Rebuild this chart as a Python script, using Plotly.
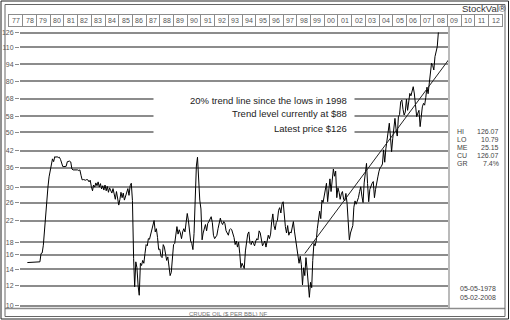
import pandas as pd
import plotly.graph_objects as go

# ---------------- data ----------------
start_month = "1978-05-01"
p1978 = [14.9, 14.9, 14.9, 14.9, 14.9, 14.9, 14.9, 14.9]
p1979 = [14.9, 14.9, 14.9, 15.0, 16.2, 16.3, 17.5, 20.5, 23.5, 27.0, 30.0, 33.0]
p1980 = [35.5, 37.4, 39.0, 38.0, 39.8, 39.6, 39.8, 39.5, 39.6, 38.8, 37.0, 36.3]
p1981 = [36.3, 36.3, 36.4, 38.0, 38.0, 38.2, 37.9, 35.5, 35.2, 35.2, 35.3, 35.2]
p1982 = [35.2, 35.0, 35.2, 33.5, 32.1, 32.2, 32.1, 32.0, 32.2, 32.1, 31.5, 32.0]
p1983 = [30.2, 29.0, 30.6, 30.0, 31.2, 30.4, 31.5, 30.0, 31.0, 29.5, 30.4, 29.2]
p1984 = [30.6, 29.0, 30.2, 28.6, 29.8, 29.0, 28.4, 29.6, 28.0, 26.8, 28.8, 27.4]
p1985 = [25.4, 26.8, 28.6, 27.2, 28.4, 26.6, 27.6, 28.8, 29.6, 27.8, 30.4, 31.1]
p1986 = [26.5, 15.5, 11.9, 15.0, 14.2, 12.0, 11.0, 14.8, 14.5, 15.2, 14.8, 16.2]
p1987 = [17.6, 17.4, 18.6, 18.5, 19.4, 20.0, 21.2, 22.0, 19.8, 20.4, 18.8, 16.8]
p1988 = [16.9, 15.8, 15.6, 17.6, 17.2, 15.8, 15.2, 15.7, 14.2, 13.2, 13.6, 16.0]
p1989 = [17.6, 17.8, 19.8, 20.8, 19.4, 20.2, 19.6, 18.6, 19.8, 20.4, 19.8, 21.6]
p1990 = [23.5, 22.0, 20.0, 18.2, 17.8, 16.8, 19.5, 27.8, 36.5, 39.6, 31.0, 26.6]
p1991 = [24.5, 18.4, 19.6, 20.6, 21.2, 20.0, 21.4, 21.8, 22.2, 22.8, 21.6, 19.2]
p1992 = [18.6, 19.0, 19.2, 20.4, 21.2, 22.5, 21.6, 21.2, 21.8, 21.4, 20.0, 19.4]
p1993 = [19.2, 20.2, 20.4, 20.2, 19.6, 18.8, 17.6, 18.2, 17.2, 18.0, 16.2, 14.2]
p1994 = [14.8, 14.4, 14.1, 16.6, 18.0, 19.4, 19.8, 17.8, 17.6, 18.2, 17.8, 17.4]
p1995 = [18.2, 18.6, 18.4, 20.0, 19.6, 18.2, 17.4, 17.8, 18.2, 17.2, 18.0, 19.2]
p1996 = [18.6, 19.4, 21.8, 23.4, 21.0, 20.2, 21.6, 22.0, 24.2, 24.8, 23.6, 25.6]
p1997 = [26.2, 22.0, 20.8, 19.6, 21.0, 19.2, 19.8, 19.6, 20.8, 21.8, 19.8, 18.2]
p1998 = [17.2, 16.0, 14.8, 15.8, 14.6, 12.1, 14.2, 13.2, 15.6, 14.0, 12.6, 10.79]
p1999 = [12.4, 11.8, 15.2, 17.8, 17.4, 18.2, 20.4, 22.8, 24.0, 22.4, 26.6, 26.0]
p2000 = [27.8, 30.2, 31.1, 26.2, 29.2, 32.4, 28.8, 32.4, 35.5, 33.2, 34.8, 27.2]
p2001 = [29.8, 28.6, 26.8, 28.2, 28.8, 26.8, 26.4, 28.3, 25.8, 21.8, 18.4, 19.6]
p2002 = [20.2, 21.0, 24.9, 26.4, 25.6, 26.2, 27.2, 28.8, 30.1, 27.6, 26.0, 31.2]
p2003 = [33.8, 37.4, 31.0, 26.2, 29.4, 30.4, 31.1, 31.6, 27.2, 29.4, 30.8, 33.0]
p2004 = [34.8, 36.0, 36.3, 37.2, 42.4, 37.8, 42.8, 46.2, 48.6, 54.3, 47.8, 41.7]
p2005 = [47.2, 51.0, 56.8, 51.0, 48.2, 57.7, 58.8, 66.2, 67.3, 61.8, 58.6, 60.2]
p2006 = [67.8, 61.2, 65.4, 71.6, 70.0, 73.4, 76.2, 71.2, 62.4, 57.7, 59.6, 61.2]
p2007 = [52.6, 60.0, 63.2, 65.3, 64.2, 69.0, 75.8, 71.4, 78.6, 88.0, 94.7, 92.8]
p2008 = [89.0, 100.7, 105.2, 110.4, 126.07]

prices = (p1978 + p1979 + p1980 + p1981 + p1982 + p1983 + p1984 + p1985 + p1986
          + p1987 + p1988 + p1989 + p1990 + p1991 + p1992 + p1993 + p1994 + p1995
          + p1996 + p1997 + p1998 + p1999 + p2000 + p2001 + p2002 + p2003 + p2004
          + p2005 + p2006 + p2007 + p2008)
dates = pd.date_range(start_month, periods=len(prices), freq="MS")

trend_dates = ["1998-08-01", "2009-01-25"]
trend_vals = [16.2, 97.6]

y_ticks = [10, 12, 14, 16, 18, 22, 26, 30, 36, 42, 50, 58, 68, 80, 94, 110, 126]
y_ticktext = [str(v) for v in y_ticks]
header_years = list(range(1977, 2013))
header_labels = ["%02d" % (y % 100) for y in header_years]

stat_names = ["HI", "LO", "ME", "CU", "GR"]
stat_values = ["126.07", "10.79", "25.15", "126.07", "7.4%"]
date_range_text = ["05-05-1978", "05-02-2008"]
notes = ["20% trend line since the lows in 1998",
         "Trend level currently at $88",
         "Latest price $126"]

# ---------------- figure ----------------
W, H = 510, 320
def px(x):
    return x / W
def py(y):
    return (H - y) / H

GRID = "#8c8c8c"
fig = go.Figure()
fig.add_trace(go.Scatter(x=dates, y=prices, mode="lines",
                         line=dict(color="black", width=1), hoverinfo="skip"))
fig.add_trace(go.Scatter(x=trend_dates, y=trend_vals, mode="lines",
                         line=dict(color="#222", width=1), hoverinfo="skip"))
fig.add_trace(go.Scatter(x=[], y=[], xaxis="x2", yaxis="y2"))

def ann(x, y, text, size, color, xanchor="center", xref="paper", family="Liberation Sans", **kw):
    d = dict(x=x, xref=xref, xanchor=xanchor, y=y, yref="paper", yanchor="middle",
             text=text, showarrow=False,
             font=dict(family=family, size=size, color=color))
    d.update(kw)
    return d

annotations = []
for yr, lab in zip(header_years, header_labels):
    annotations.append(ann("%d-07-02" % yr, py(20.5), lab, 7, "#555", xref="x2"))
# white panel behind the notes (covers gridlines)
annotations.append(ann(px(253.5), py(116), " ", 8, "white", width=200, height=44,
                       bgcolor="white", borderpad=0))
note_y = [100, 114, 128]
for t, yy in zip(notes, note_y):
    annotations.append(ann(px(349), py(yy), t, 9.5, "#222", xanchor="right"))
stat_y = [131, 139, 147, 155, 163]
for n, v, yy in zip(stat_names, stat_values, stat_y):
    annotations.append(ann(px(455), py(yy), n, 7, "#444", xanchor="left"))
    annotations.append(ann(px(501), py(yy), v, 7, "#444", xanchor="right"))
for t, yy in zip(date_range_text, [288, 297]):
    annotations.append(ann(px(478), py(yy), t, 7, "#444"))
annotations.append(ann(px(484), py(9), "StockVal®", 9.5, "#333"))
annotations.append(ann(px(228), py(313.5), "CRUDE OIL ($ PER BBL) NF", 6, "#777"))

shapes = [
    dict(type="line", xref="paper", yref="paper", x0=px(449), x1=px(449),
         y0=py(26), y1=py(308.5), line=dict(color=GRID, width=1.2)),
    dict(type="line", xref="paper", yref="paper", x0=px(5), x1=px(505),
         y0=py(308.5), y1=py(308.5), line=dict(color=GRID, width=1.5)),
    dict(type="rect", xref="paper", yref="paper", x0=px(1), x1=px(508.5),
         y0=py(1), y1=py(319), line=dict(color="#222", width=1)),
    dict(type="rect", xref="paper", yref="paper", x0=px(5), x1=px(505),
         y0=py(4.5), y1=py(316.5), line=dict(color="#666", width=1)),
]

fig.update_layout(
    width=W, height=H, margin=dict(l=0, r=0, t=0, b=0),
    paper_bgcolor="white", plot_bgcolor="white", showlegend=False,
    xaxis=dict(domain=[px(20), px(448)], type="date",
               range=["1977-10-17", "2009-01-13"], showgrid=False,
               showticklabels=False, zeroline=False, showline=False, anchor="y"),
    yaxis=dict(domain=[py(308.5), py(26)], type="log", range=[0.988, 2.1266],
               tickvals=y_ticks, ticktext=y_ticktext, showgrid=True,
               gridcolor=GRID, gridwidth=1.5, zeroline=False, showline=False,
               ticks="outside", ticklen=4, tickcolor=GRID, tickwidth=1,
               tickfont=dict(family="Liberation Sans", size=7, color="#555"),
               anchor="x"),
    xaxis2=dict(domain=[px(9.15), px(502.4)], type="date",
                range=["1977-01-01", "2013-01-01"],
                tickvals=["%d-01-01" % y for y in header_years + [2013]],
                showgrid=True, gridcolor=GRID, gridwidth=1,
                showticklabels=False, ticks="", zeroline=False,
                showline=True, mirror=True, linecolor=GRID, linewidth=1, anchor="y2"),
    yaxis2=dict(domain=[py(26), py(15)], range=[0, 1], showgrid=False,
                showticklabels=False, zeroline=False, showline=True, mirror=True,
                linecolor=GRID, linewidth=1, anchor="x2"),
    annotations=annotations, shapes=shapes,
)

fig.write_html("out.html")
